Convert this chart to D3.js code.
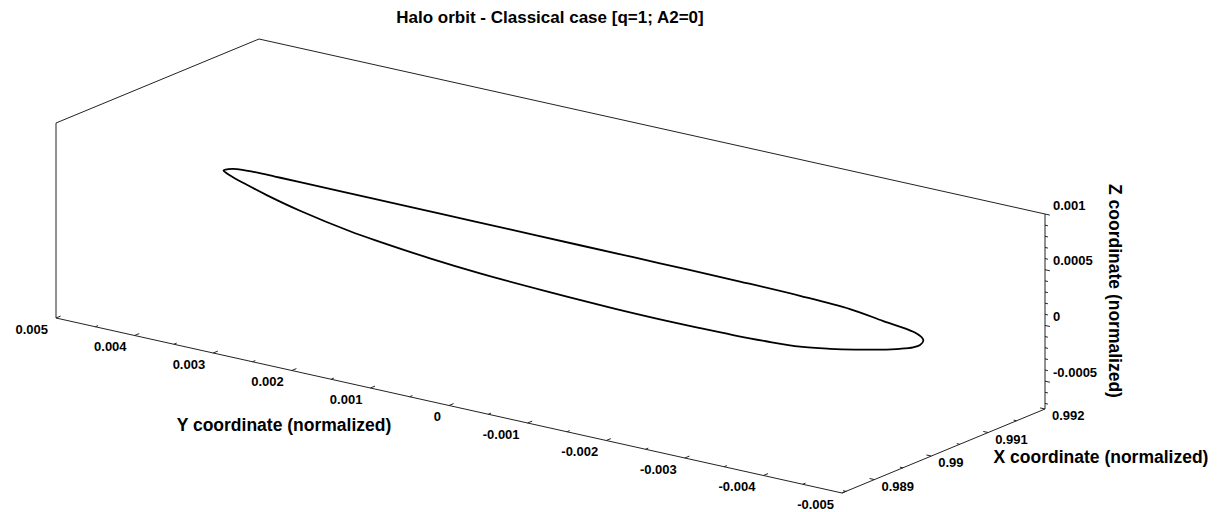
<!DOCTYPE html>
<html>
<head>
<meta charset="utf-8">
<title>Halo orbit</title>
<style>
    body{ margin:0; background:#fff; }
    text{ font-family: Arial, "Liberation Sans", sans-serif; font-weight:bold; fill:#000; }
    .edge, .tick{ stroke:#222; stroke-width:1; fill:none; }
    .orbit{ fill:none; stroke:#000; stroke-width:1.8; }
    .ticklabel{ font-size:13px; }
    .axlabel{ font-size:17.5px; }
    .title{ font-size:17px; }
</style>
</head>
<body>
<script src="https://cdn.jsdelivr.net/npm/d3@7"></script>
<script>
var width = 1221, height = 512;

// axis limits
var xLim = [0.98843, 0.992];
var yLim = [-0.005, 0.005];
var zLim = [-0.00075, 0.001];

// tick values and their labels
var yTicks  = [0.005, 0.004, 0.003, 0.002, 0.001, 0, -0.001, -0.002, -0.003, -0.004, -0.005];
var yLabels = ["0.005","0.004","0.003","0.002","0.001","0","-0.001","-0.002","-0.003","-0.004","-0.005"];
var xTicks  = [0.989, 0.99, 0.991, 0.992];
var xLabels = ["0.989","0.99","0.991","0.992"];
var zTicks  = [0.001, 0.0005, 0, -0.0005];
var zLabels = ["0.001","0.0005","0","-0.0005"];

// orbit samples, x held near the L1 point
var orbitX = [0.99,0.99,0.99,0.99,0.99,0.99,0.99,0.99,0.99,0.99,
              0.99,0.99,0.99,0.99,0.99,0.99,0.99,0.99,0.99,0.99,
              0.99,0.99,0.99,0.99,0.99,0.99,0.99,0.99,0.99,0.99,
              0.99,0.99,0.99,0.99,0.99,0.99,0.99,0.99,0.99,0.99];
var orbitY = [0.004005, 0.003947, 0.003837, 0.003604, 0.003350, 0.003031, 0.002141, 0.001250,
              0.000360, -0.000531, -0.001549, -0.002567, -0.003330, -0.003966, -0.004390,
              -0.004771, -0.004878, -0.004899,
              -0.004857, -0.004771, -0.004602, -0.004348, -0.004030, -0.003712, -0.003330,
              -0.002897, -0.002478, -0.002058, -0.001634, -0.000955, -0.000107, 0.000741,
              0.001378, 0.002014, 0.002395, 0.003031, 0.003455, 0.003731, 0.003884, 0.003960];
var orbitZ = [0.000399, 0.000419, 0.000438, 0.000446, 0.000447, 0.000447, 0.000446, 0.000444,
              0.000442, 0.000440, 0.000438, 0.000434, 0.000426, 0.000407, 0.000366,
              0.000330, 0.000297, 0.000269,
              0.000224, 0.000190, 0.000150, 0.000103, 0.000053, 0.000010, -0.000031,
              -0.000050, -0.000060, -0.000064, -0.000065, -0.000059, -0.000040, -0.000012,
              0.000023, 0.000071, 0.000106, 0.000190, 0.000264, 0.000322, 0.000357, 0.000378];

var svg = d3.select("body").append("svg")
            .attr("width", width)
            .attr("height", height);

// each axis to 0..1, then a fixed oblique view of the box
var sx = d3.scaleLinear().domain(xLim).range([0, 1]);
var sy = d3.scaleLinear().domain([yLim[1], yLim[0]]).range([0, 1]);
var sz = d3.scaleLinear().domain(zLim).range([0, 1]);
var O = [56, 318], EX = [203, -84], EY = [786, 175], EZ = [0, -195];

function P(x, y, z){
    var a = sx(x), b = sy(y), c = sz(z);
    return [O[0] + a*EX[0] + b*EY[0] + c*EZ[0],
            O[1] + a*EX[1] + b*EY[1] + c*EZ[1]];
}
function unit(v){ var l = Math.sqrt(v[0]*v[0] + v[1]*v[1]); return [v[0]/l, v[1]/l]; }

var x0 = xLim[0], x1 = xLim[1], y0 = yLim[0], y1 = yLim[1], z0 = zLim[0], z1 = zLim[1];
var edges = [
    [[x0,y1,z0],[x0,y1,z1]],
    [[x0,y1,z1],[x1,y1,z1]],
    [[x1,y1,z1],[x1,y0,z1]],
    [[x1,y0,z1],[x1,y0,z0]],
    [[x0,y1,z0],[x0,y0,z0]],
    [[x0,y0,z0],[x1,y0,z0]]
];
edges.forEach(function(e){
    var a = P.apply(null, e[0]), b = P.apply(null, e[1]);
    svg.append("line").attr("class","edge")
       .attr("x1",a[0]).attr("y1",a[1]).attr("x2",b[0]).attr("y2",b[1]);
});

function tick(p, dir, len){
    svg.append("line").attr("class","tick")
       .attr("x1",p[0]).attr("y1",p[1])
       .attr("x2",p[0]+dir[0]*len).attr("y2",p[1]+dir[1]*len);
}

// Y axis ticks (front bottom edge)
var ux = unit(EX), uy = unit(EY);
d3.range(-10, 11).forEach(function(i){
    tick(P(x0, i*0.0005, z0), ux, i % 2 === 0 ? 5 : 3);
});
yTicks.forEach(function(v, i){
    var p = P(x0, v, z0);
    svg.append("text").attr("class","ticklabel")
       .attr("x", p[0]-8).attr("y", p[1]+15.5)
       .attr("text-anchor","end").text(yLabels[i]);
});

// X axis ticks (right bottom edge)
d3.range(0, 8).map(function(i){ return 0.992 - i*0.0005; })
  .filter(function(v){ return v >= x0; })
  .forEach(function(v, i){ tick(P(v, y0, z0), [-uy[0], -uy[1]], i % 2 === 0 ? 5 : 3); });
xTicks.forEach(function(v, i){
    var p = P(v, y0, z0);
    svg.append("text").attr("class","ticklabel")
       .attr("x", p[0]+7).attr("y", p[1]+11)
       .attr("text-anchor","start").text(xLabels[i]);
});

// Z axis ticks (right vertical edge)
d3.range(-7, 11).forEach(function(i){
    tick(P(x1, y0, i*0.0001), uy, i % 5 === 0 ? 5 : 3);
});
zTicks.forEach(function(v, i){
    var p = P(x1, y0, v);
    svg.append("text").attr("class","ticklabel")
       .attr("x", p[0]+8).attr("y", p[1]-4.5)
       .attr("text-anchor","start").text(zLabels[i]);
});

// orbit
var pts = orbitX.map(function(x, i){ return P(x, orbitY[i], orbitZ[i]); });
svg.append("path").attr("class","orbit")
   .attr("d", d3.line().curve(d3.curveCatmullRomClosed)(pts));

// titles
svg.append("text").attr("class","title")
   .attr("x", 550).attr("y", 23).attr("text-anchor","middle")
   .text("Halo orbit - Classical case [q=1; A2=0]");
svg.append("text").attr("class","axlabel")
   .attr("x", 284).attr("y", 431).attr("text-anchor","middle")
   .text("Y coordinate (normalized)");
svg.append("text").attr("class","axlabel")
   .attr("x", 1101).attr("y", 463).attr("text-anchor","middle")
   .text("X coordinate (normalized)");
svg.append("text").attr("class","axlabel")
   .attr("text-anchor","middle")
   .attr("transform","translate(1109,291) rotate(90)")
   .text("Z coordinate (normalized)");
</script>
</body>
</html>
